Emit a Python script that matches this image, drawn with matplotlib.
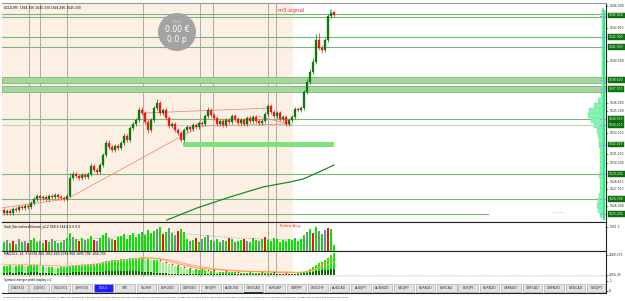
import numpy as np
import matplotlib
matplotlib.use("Agg")
import matplotlib.pyplot as plt
from matplotlib.patches import Rectangle, Ellipse

W, H = 625, 301

# ---- GOLD M5 candles, 21 Feb 2020 06:20 .. 15:30 ----
opens = [1625.6, 1625.3, 1625.5, 1625.3, 1625.7, 1625.6, 1625.9, 1625.8, 1626.0, 1625.9,
         1626.3, 1626.7, 1627.0, 1626.8, 1626.9, 1626.7, 1627.0, 1626.9, 1627.1, 1626.9,
         1626.8, 1626.7, 1627.0, 1628.8, 1629.2, 1629.0, 1628.8, 1629.1, 1628.9, 1629.2,
         1630.0, 1629.6, 1629.4, 1630.1, 1631.1, 1632.3, 1631.9, 1631.6, 1632.0, 1631.8,
         1632.3, 1633.0, 1632.6, 1633.8, 1634.2, 1634.6, 1635.6, 1635.3, 1634.4, 1633.6,
         1634.6, 1635.8, 1636.3, 1635.3, 1635.6, 1634.8, 1634.0, 1634.2, 1633.6, 1633.3,
         1632.6, 1633.6, 1633.9, 1633.7, 1634.1, 1633.9, 1634.3, 1634.2, 1635.0, 1635.6,
         1635.1, 1634.8, 1634.2, 1634.5, 1634.1, 1634.6, 1634.4, 1635.0, 1634.7, 1634.3,
         1634.6, 1634.2, 1634.8, 1634.5, 1634.9, 1634.5, 1634.3, 1634.5, 1635.2, 1636.0,
         1635.4, 1635.0, 1635.3, 1634.7, 1634.9, 1634.2, 1634.6, 1634.9, 1635.7, 1635.6,
         1635.8, 1637.4, 1638.4, 1639.4, 1640.4, 1642.6, 1641.8, 1641.6, 1642.6, 1645.0,
         1645.4]
closes = [1625.3, 1625.5, 1625.3, 1625.7, 1625.6, 1625.9, 1625.8, 1626.0, 1625.9, 1626.3,
          1626.7, 1627.0, 1626.8, 1626.9, 1626.7, 1627.0, 1626.9, 1627.1, 1626.9, 1626.8,
          1626.7, 1627.0, 1628.8, 1629.2, 1629.0, 1628.8, 1629.1, 1628.9, 1629.2, 1630.0,
          1629.6, 1629.4, 1630.1, 1631.1, 1632.3, 1631.9, 1631.6, 1632.0, 1631.8, 1632.3,
          1633.0, 1632.6, 1633.8, 1634.2, 1634.6, 1635.6, 1635.3, 1634.4, 1633.6, 1634.6,
          1635.8, 1636.3, 1635.3, 1635.6, 1634.8, 1634.0, 1634.2, 1633.6, 1633.3, 1632.6,
          1633.6, 1633.9, 1633.7, 1634.1, 1633.9, 1634.3, 1634.2, 1635.0, 1635.6, 1635.1,
          1634.8, 1634.2, 1634.5, 1634.1, 1634.6, 1634.4, 1635.0, 1634.7, 1634.3, 1634.6,
          1634.2, 1634.8, 1634.5, 1634.9, 1634.5, 1634.3, 1634.5, 1635.2, 1636.0, 1635.4,
          1635.0, 1635.3, 1634.7, 1634.9, 1634.2, 1634.6, 1634.9, 1635.7, 1635.6, 1635.8,
          1637.4, 1638.4, 1639.4, 1640.4, 1642.6, 1641.8, 1641.6, 1642.6, 1645.0, 1645.4,
          1645.1]
highs = [1625.8, 1625.7, 1625.7, 1625.9, 1625.9, 1626.1, 1626.1, 1626.2, 1626.2, 1626.5,
         1626.9, 1627.2, 1627.2, 1627.1, 1627.1, 1627.2, 1627.2, 1627.3, 1627.3, 1627.1,
         1627.0, 1627.2, 1629.3, 1629.5, 1629.4, 1629.2, 1629.3, 1629.3, 1629.4, 1630.3,
         1630.2, 1629.8, 1630.3, 1631.3, 1632.6, 1632.6, 1632.1, 1632.2, 1632.2, 1632.5,
         1633.3, 1633.2, 1634.0, 1634.4, 1634.8, 1635.9, 1635.9, 1635.5, 1634.6, 1634.8,
         1636.0, 1636.7, 1636.5, 1635.8, 1635.8, 1635.0, 1634.4, 1634.4, 1633.8, 1633.5,
         1633.8, 1634.1, 1634.0, 1634.3, 1634.3, 1634.5, 1634.5, 1635.2, 1635.9, 1635.8,
         1635.3, 1635.0, 1634.7, 1634.7, 1634.8, 1634.8, 1635.2, 1635.2, 1634.9, 1634.8,
         1634.8, 1635.0, 1635.0, 1635.1, 1635.1, 1634.7, 1634.7, 1635.4, 1636.2, 1636.2,
         1635.6, 1635.5, 1635.5, 1635.1, 1635.1, 1634.8, 1635.1, 1635.9, 1635.9, 1636.0,
         1637.6, 1638.7, 1639.7, 1640.8, 1643.2, 1643.3, 1642.1, 1642.8, 1645.2, 1645.7,
         1645.5]
lows = [1625.1, 1625.1, 1625.1, 1625.1, 1625.4, 1625.4, 1625.6, 1625.6, 1625.7, 1625.7,
        1626.1, 1626.5, 1626.6, 1626.6, 1626.5, 1626.5, 1626.7, 1626.7, 1626.7, 1626.6,
        1626.5, 1626.5, 1626.9, 1628.6, 1628.8, 1628.6, 1628.6, 1628.7, 1628.7, 1629.0,
        1629.4, 1629.2, 1629.2, 1629.9, 1630.9, 1631.7, 1631.4, 1631.4, 1631.6, 1631.6,
        1632.1, 1632.4, 1632.4, 1633.6, 1634.0, 1634.4, 1635.1, 1634.2, 1633.3, 1633.4,
        1634.4, 1635.6, 1635.1, 1635.1, 1634.6, 1633.8, 1633.8, 1633.4, 1633.1, 1632.4,
        1632.4, 1633.4, 1633.5, 1633.5, 1633.7, 1633.7, 1634.0, 1634.0, 1634.8, 1634.9,
        1634.6, 1634.0, 1634.0, 1633.9, 1633.9, 1634.2, 1634.2, 1634.5, 1634.1, 1634.1,
        1634.0, 1634.0, 1634.3, 1634.3, 1634.3, 1634.1, 1634.1, 1634.3, 1635.0, 1635.2,
        1634.8, 1634.8, 1634.5, 1634.5, 1634.0, 1634.0, 1634.4, 1634.7, 1635.4, 1635.4,
        1635.6, 1637.2, 1638.2, 1639.2, 1640.2, 1641.6, 1641.3, 1641.4, 1642.4, 1644.8,
        1644.9]

# ---- normalized volume ----
volumes = [505, 615, 450, 560, 390, 670, 505, 560, 450, 615, 730, 505, 560, 450, 615, 505,
           670, 560, 450, 505, 615, 730,
           1010, 785, 670, 560, 730, 615, 670, 840, 615, 560, 730,
           895, 1010, 730, 670, 615, 785, 840, 950, 670, 895, 1010, 785, 950,
           1065, 895, 1175, 1010, 1120, 1230, 1345, 950, 1065, 1290, 1010, 895, 1120, 1230, 1065,
           670, 560, 615, 730, 505, 670, 785, 895, 615, 560, 670, 505, 615, 560, 730, 670, 505,
           560, 615, 670, 560, 505, 730, 615, 560, 670, 785, 615, 560, 730, 670, 505, 615, 560,
           670, 615, 730, 560, 670,
           895, 1065, 1230, 1010, 1345, 1120, 950, 1175, 1290, 1230, 335]
vol_kind = ("gsgrgsgsrgggsgrgsgsgsg" "gsgrgsggrsg" "ggsgrgsgrgsgg" "rgrsrrgrsrrgsrg"
            "gsgrsgrgsrgsgrgsgrsgrgsgrsgrgsgrgsrgsgr"[:39] + "ggggggggggg")
vol_avg_pts = [(0, 560), (15, 560), (30, 700), (45, 900), (55, 1050), (65, 900),
               (80, 700), (98, 620), (105, 800), (110, 950)]

# ---- MACD ----
macd_hist = [0.9, 0.9, 1.0, 0.9, 0.9, 1.0, 1.0, 0.9, 0.9, 1.0, 1.0, 1.0, 0.9, 0.9, 0.8, 0.8,
             0.8, 0.7, 0.7, 0.8, 0.8, 0.8,
             0.9, 1.0, 1.0, 1.0, 1.0, 1.0, 1.1, 1.1, 1.1, 1.1, 1.2,
             1.3, 1.4, 1.4, 1.5, 1.5, 1.5, 1.6, 1.6, 1.6, 1.7, 1.7, 1.7, 1.7,
             1.7, 1.6, 1.6, 1.5, 1.5, 1.5, 1.4, 1.3, 1.2, 1.1, 1.0, 0.9, 0.9, 0.8, 0.7,
             0.6, 0.6, 0.5, 0.5, 0.5, 0.5, 0.5, 0.4, 0.4, 0.4, 0.3, 0.3, 0.3, 0.3, 0.3, 0.3,
             0.3, 0.2, 0.2, 0.2, 0.2, 0.2, 0.2, 0.2, 0.2, 0.2, 0.2, 0.2, 0.2, 0.2, 0.1, 0.1,
             0.1, 0.1, 0.1, 0.1, 0.1, 0.2, 0.2,
             0.3, 0.4, 0.6, 0.8, 1.0, 1.2, 1.3, 1.5, 1.7, 2.0, 2.2]
macd_osma = [0.2, 0.2, 0.3, 0.2, 0.2, 0.3, 0.3, 0.2, 0.2, 0.3, 0.3, 0.3, 0.2, 0.2, 0.2, 0.2,
             0.2, 0.1, 0.1, 0.2, 0.2, 0.2,
             0.2, 0.3, 0.3, 0.3, 0.3, 0.3, 0.3, 0.3, 0.3, 0.3, 0.3,
             0.3, 0.4, 0.4, 0.4, 0.4, 0.4, 0.4, 0.4, 0.4, 0.4, 0.4, 0.4, 0.4,
             0.3, 0.3, 0.3, 0.3, 0.2, 0.2, 0.2, 0.2, 0.2, 0.1, 0.1, 0.1, 0.1, 0.1, 0.1,
             0.1, 0.1, 0.1, 0.1, 0.1, 0.1, 0.1, 0.1, 0.1, 0.1, 0.1, 0.1, 0.1, 0.1, 0.1, 0.1,
             0.1, 0.1, 0.1, 0.1, 0.1, 0.1, 0.1, 0.1, 0.1, 0.1, 0.1, 0.1, 0.1, 0.1, 0.1, 0.1,
             0.1, 0.1, 0.1, 0.1, 0.1, 0.1, 0.1,
             0.2, 0.2, 0.3, 0.3, 0.4, 0.4, 0.5, 0.5, 0.5, 0.6, 0.6]
signal_pts = [(0, 1.0), (10, 1.0), (20, 0.85), (30, 1.05), (40, 1.5), (48, 1.7), (55, 1.5),
              (62, 1.0), (70, 0.6), (80, 0.35), (90, 0.25), (98, 0.2), (103, 0.45), (110, 1.3)]
orange_pts = [(45, 1.75), (52, 1.6), (58, 1.1), (64, 0.7), (75, 0.4), (90, 0.3),
              (100, 0.25), (104, 0.6), (110, 1.8)]
red_dot_bars = [52, 54, 56, 58, 60, 62, 64, 66, 68, 70, 74, 78, 82, 86, 90, 94]

# ---- levels, trend lines, MA, volume profile ----
level_lines = [1645.2, 1644.9, 1642.9, 1641.9, 1634.7, 1629.2, 1626.7]
faint_lines = [1634.1]
bands = [(1638.3, 1638.9), (1637.4, 1638.0)]
zone = (1631.9, 1632.4, 59.7, 110)
short_line = (1625.2, 161.3)
trend_lines = [[(-1.3, 1625.8), (21, 1626.7)],
               [(21, 1626.7), (63, 1633.6)],
               [(46.3, 1635.3), (89.3, 1635.8)],
               [(65.3, 1634.0), (96, 1634.2)],
               [(84.7, 1635.0), (96, 1634.1)]]
ma_pts = [(54.3, 1624.6), (64.3, 1625.8), (75.3, 1626.9), (86.3, 1627.9),
          (95.3, 1628.4), (99.7, 1628.7), (104.3, 1629.3), (110, 1630.1)]
profile_prices = [1625.0 + 0.5 * k for k in range(42)]
profile_width = [4, 6, 7, 6, 5, 4, 4, 4, 5, 4, 4, 4, 4, 4, 5, 5, 6, 7, 10, 13, 16, 15,
                 10, 6, 3, 2, 2, 2, 2, 2, 2, 2, 2, 2, 2, 2, 2, 2, 2, 2, 2, 2]
tag_prices = [1645.05, 1642.9, 1641.9, 1638.6, 1637.7, 1634.7, 1634.1, 1632.15,
              1629.2, 1626.7, 1625.2]
price_ticks = [1646.0, 1643.8, 1640.5, 1636.3, 1635.5, 1633.3, 1631.2, 1630.3,
               1628.4, 1627.7, 1626.0]

separators = [8.3, 12, 21, 46.3, 65.3, 69.7, 88, 90.7]
session_end = 96.3

time_labels = ["21 Feb 2020", "21 Feb 06:45", "21 Feb 07:10", "21 Feb 07:35", "21 Feb 08:00",
               "21 Feb 08:25", "21 Feb 08:50", "21 Feb 09:15", "21 Feb 09:40", "21 Feb 10:05",
               "21 Feb 10:30", "21 Feb 10:55", "21 Feb 11:20", "21 Feb 11:45", "21 Feb 12:10",
               "21 Feb 12:35", "21 Feb 13:00", "21 Feb 13:25", "21 Feb 13:50", "21 Feb 14:15",
               "21 Feb 14:40", "21 Feb 15:05", "21 Feb 15:30"]
symbols = ["[DAX30]", "[DJI30]", "[NQ100]", "[SP500]", "GOLD", "WTI", "SILVER", "EURUSD",
           "GBPUSD", "USDJPY", "AUDUSD", "USDCAD", "EURGBP", "GBPJPY", "USDCHF", "AUDCAD",
           "AUDJPY", "AUDNZD", "CADJPY", "EURAUD", "EURCAD", "EURJPY", "EURNZD", "GBPAUD",
           "GBPCAD", "GBPNZD", "NZDCAD", "NZDJPY"]

PEACH = "#fcf0e5"
GRID = "#a9a9a9"
LVL = "#79b879"
XL = (-0.67, 200.67)
NARROW = ["Liberation Sans Narrow", "DejaVu Sans"]


def fy(py):
    return 1 - py / H


fig = plt.figure(figsize=(W / 100, H / 100), dpi=100)
fig.patch.set_facecolor("white")
L, AW = 2 / W, 604 / W

ax = fig.add_axes([L, fy(222), AW, 219 / H])
axv = fig.add_axes([L, fy(251), AW, 29 / H])
axm = fig.add_axes([L, fy(277), AW, 26 / H])
axs = fig.add_axes([L, fy(293), AW, 16 / H])
axt = fig.add_axes([L, 0, AW, 8 / H])

for a in (ax, axv, axm):
    a.set_xlim(*XL)
    a.set_facecolor("white")
    a.axvspan(XL[0], session_end, color=PEACH, lw=0, zorder=0)
    for s in separators:
        a.axvline(s, color=GRID, lw=0.7, zorder=1)
    a.set_xticks([])
    a.yaxis.tick_right()
    a.tick_params(axis="y", labelsize=2.2, length=1.5, width=0.4, pad=0.8, colors="#222222")
    for sp in a.spines.values():
        sp.set_linewidth(0.8)
        sp.set_color("#222222")
    a.spines["left"].set_visible(False)

# ---- main price panel ----
ax.set_ylim(1624.4, 1646.3)
ax.spines["top"].set_color("#999999")
for lo, hi in bands:
    ax.axhspan(lo, hi, facecolor="#a5d69e", edgecolor=LVL, lw=0.6, zorder=1)
for p in level_lines:
    ax.axhline(p, color=LVL, lw=0.8, zorder=1)
for p in faint_lines:
    ax.axhline(p, color="#b9d9b9", lw=0.8, zorder=1)
ax.add_patch(Rectangle((zone[2], zone[0]), zone[3] - zone[2], zone[1] - zone[0],
                       facecolor="#7fe27f", edgecolor="none", zorder=1))
ax.plot([XL[0], short_line[1]], [short_line[0]] * 2, color=LVL, lw=0.8, zorder=1)

for seg in trend_lines:
    xs, ys = zip(*seg)
    ax.plot(xs, ys, color="#f08a8a", lw=0.6, zorder=2)
mx, my = zip(*ma_pts)
ax.plot(mx, my, color="#1f8a1f", lw=0.9, zorder=2)

idx = np.arange(len(closes))
o, c, h, l = map(np.array, (opens, closes, highs, lows))
up = c >= o
ax.vlines(idx[up], l[up], h[up], color="#0a6e0a", lw=0.5, zorder=3)
ax.vlines(idx[~up], l[~up], h[~up], color="#ff1a1a", lw=0.5, zorder=3)
body = np.maximum(np.abs(c - o), 0.06)
ax.bar(idx[up], body[up], bottom=np.minimum(o, c)[up], width=0.7, color="#0a7d0a",
       edgecolor="#0a6e0a", lw=0.2, zorder=4)
ax.bar(idx[~up], body[~up], bottom=np.minimum(o, c)[~up], width=0.7, color="#ff1a1a",
       edgecolor="#e00000", lw=0.2, zorder=4)
ax.bar(idx[-2], 0.3, bottom=c[-2] - 0.15, width=0.8, color="#5ab4e6", zorder=5)

# volume profile against the right edge
pw = np.array(profile_width) / 3.0
ax.barh(profile_prices, pw, left=200 - pw, height=0.5, color="#86f2b4",
        edgecolor="#49e68f", lw=0.2, zorder=2)
ax.vlines(200, 1624.6, 1645.6, color="#27f07e", lw=1.6, zorder=3)
for p in tag_prices:
    ax.plot([198.6, 200.3], [p, p], color="#a89cf4", lw=0.9, zorder=4)

ax.set_yticks(price_ticks)
ax.set_yticklabels([f"{p:.3f}" for p in price_ticks])
for p in tag_prices:
    ax.text(1.005, p, f"{p:.3f}", transform=ax.get_yaxis_transform(), fontsize=2.2,
            color="white", va="center", ha="left", zorder=6,
            bbox=dict(boxstyle="square,pad=0.3", fc="#0c700c", ec="#0c700c", lw=0.3))

ax.text(0.004, 0.985, "GOLD,M5  1644.300 1645.330 1644.490 1645.330", transform=ax.transAxes,
        fontsize=2.2, va="top", ha="left", color="black")
ax.text(91.3, 1645.5, "m5 signal", fontsize=3.9, color="#ff2a2a", ha="left", va="center")
ax.text(183, 1625.3, "~ ~~~", fontsize=2.2, color="#5050c0", ha="left", va="center")

fig.add_artist(Ellipse((177 / W, fy(32)), 38 / W, 38 / H, transform=fig.transFigure,
                       facecolor="#a3a3a3", edgecolor="none"))
fig.text(177 / W, fy(22), "GOLD", fontsize=2.6, color="#d6d6d6", ha="center", va="center")
fig.text(177 / W, fy(29), "0.00 \u20ac", fontsize=5.6, color="white", ha="center", va="center")
fig.text(177 / W, fy(39), "0.0 p", fontsize=5.6, color="white", ha="center", va="center")

# ---- volume panel ----
axv.set_ylim(0, 1630)
vcol = {"g": "#00e600", "r": "#ff0a0a", "s": "#7a8a9c"}
axv.bar(idx, volumes, width=0.7, color=[vcol[k] for k in vol_kind], lw=0, zorder=3)
vx, vy = zip(*vol_avg_pts)
axv.plot(vx, vy, color="#8a8a8a", lw=0.5, ls=(0, (1, 1.5)), zorder=4)
axv.set_yticks([1351.3])
axv.set_yticklabels(["1351.3"])
axv.text(0.004, 0.93, "Gadi_NormalizedVolume_v2.2 958.6 544.8 0.0 0.0", transform=axv.transAxes,
         fontsize=2.2, va="top", ha="left", color="black")
axv.text(92, 1380, "Below Avg.", fontsize=2.7, color="#ff3030", ha="left", va="center")

# ---- MACD panel ----
axm.set_ylim(-0.22, 2.38)
hcol = ["#00f000" if k == 0 or macd_hist[k] >= macd_hist[k - 1] else "#9ff09f"
        for k in range(len(macd_hist))]
axm.bar(idx, macd_hist, width=0.8, color=hcol, lw=0, zorder=3)
axm.bar(idx, macd_osma, width=0.8, color="#0b6b0b", lw=0, zorder=4)
sx, sy = zip(*signal_pts)
axm.plot(sx, sy, color="#ff9a9a", lw=0.7, zorder=5)
ox, oy = zip(*orange_pts)
axm.plot(ox, oy, color="#ffa020", lw=0.6, zorder=5)
axm.scatter(red_dot_bars, [macd_hist[b] + 0.08 for b in red_dot_bars], s=1.2,
            color="#ff1010", zorder=6, lw=0)
axm.axhline(0, color="#999999", lw=0.4, ls=(0, (1, 1.5)), zorder=2)
axm.set_yticks([2.0, 0.0])
axm.set_yticklabels(["2849.575", "2056.35"])
axm.text(0.004, 0.95, "MACD(12, 26, 9) 2038.968 1851.649 2038.968 1895.790 -656.703",
         transform=axm.transAxes, fontsize=2.2, va="top", ha="left", color="black")

# ---- symbol changer panel ----
axs.set_xlim(2, 606)
axs.set_ylim(293, 277)
axs.set_xticks([])
axs.yaxis.tick_right()
axs.set_yticks([281, 291])
axs.set_yticklabels(["1", "0"])
axs.tick_params(axis="y", labelsize=2.2, length=1.5, width=0.4, pad=0.8)
for sp in axs.spines.values():
    sp.set_linewidth(0.8)
    sp.set_color("#222222")
axs.spines["left"].set_visible(False)
axs.spines["top"].set_visible(False)
axs.text(4, 279.6, "Symbol changer profit display v.1", fontsize=2.1, va="center", ha="left")
for k, name in enumerate(symbols):
    x0 = 8 + 21.45 * k
    fc = "#1c1cff" if name == "GOLD" else "#e2e2e2"
    tc = "#d8d8ff" if name == "GOLD" else "#333333"
    axs.add_patch(Rectangle((x0, 283.5), 19.5, 8, facecolor=fc, edgecolor="#a0a0a0", lw=0.4))
    axs.text(x0 + 9.75, 287.6, name, fontsize=2.3, color=tc, ha="center", va="center")
    if name == "USDCAD":
        axs.add_patch(Rectangle((x0, 291.6), 19.5, 1.4, facecolor="#0b5a0b", edgecolor="none"))

# ---- time axis ----
axt.set_xlim(*XL)
axt.set_ylim(0, 1)
axt.axis("off")
for k, lab in enumerate(time_labels):
    axt.text(5 * k - 0.3, 0.45, lab, fontsize=1.7, family=NARROW, ha="left", va="center",
             color="#222222")

fig.savefig("out.png", dpi=100, facecolor="white")
